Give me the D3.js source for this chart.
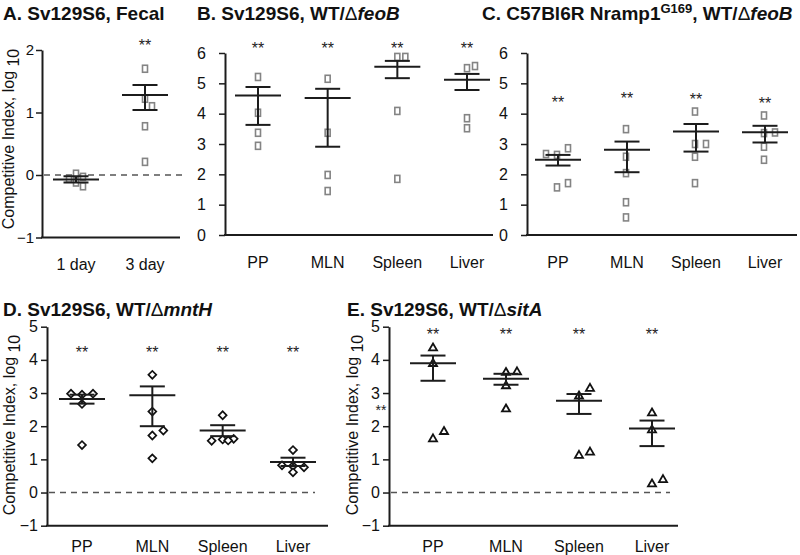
<!DOCTYPE html>
<html><head><meta charset="utf-8">
<script src="https://cdn.jsdelivr.net/npm/d3@7"></script>
<style>
html,body{margin:0;padding:0;background:#fff;}
svg{display:block;font-family:Arial,"Liberation Sans",Helvetica,sans-serif;}
</style></head>
<body>
<svg id="chart" width="800" height="555"></svg>
<script>
// ---------------- DATA ----------------
const organs = ["PP", "MLN", "Spleen", "Liver"];
const catsA = ["1 day", "3 day"];

// Panel A: Sv129S6, Fecal
const ptsA = [[0.02, -0.03, -0.06, -0.12, -0.18], [1.70, 1.22, 1.10, 0.78, 0.21]];
const meanA = [-0.07, 1.28];
const semHiA = [-0.02, 1.44];
const semLoA = [-0.12, 1.04];
const starsA = [null, 2.13];
const ticksA = [-1, 0, 1, 2];

// Panel B: Sv129S6, WT/ΔfeoB
const ptsB = [[5.21, 4.03, 3.37, 2.94], [5.15, 3.37, 1.98, 1.45], [5.87, 5.87, 4.09, 1.85], [5.50, 5.57, 3.85, 3.52]];
const meanB = [4.60, 4.52, 5.55, 5.12];
const semHiB = [4.88, 4.82, 5.74, 5.31];
const semLoB = [3.63, 2.91, 5.17, 4.78];
const starsB = [6.26, 6.26, 6.26, 6.26];
const ticks06 = [0, 1, 2, 3, 4, 5, 6];

// Panel C: C57Bl6R Nramp1 G169, WT/ΔfeoB
const ptsC = [[2.64, 2.86, 2.67, 1.57, 1.71], [3.49, 2.58, 2.04, 1.08, 0.58], [4.07, 3.00, 3.00, 2.58, 1.71], [3.94, 3.36, 3.38, 2.91, 2.48]];
const meanC = [2.48, 2.81, 3.41, 3.39];
const semHiC = [2.64, 3.08, 3.66, 3.60];
const semLoC = [2.29, 2.07, 2.75, 3.05];
const starsC = [4.48, 4.62, 4.58, 4.45];

// Panel D: Sv129S6, WT/ΔmntH
const ptsD = [[2.95, 2.98, 2.98, 2.67, 1.43], [3.55, 2.44, 1.72, 1.87, 1.03], [2.33, 1.60, 1.62, 1.56, 1.57], [0.80, 0.76, 0.82, 1.28, 0.61]];
const meanD = [2.82, 2.93, 1.87, 0.92];
const semHiD = [2.95, 3.20, 2.03, 1.05];
const semLoD = [2.68, 2.00, 1.70, 0.80];
const starsD = [4.33, 4.33, 4.33, 4.33];
const ticksM15 = [-1, 0, 1, 2, 3, 4, 5];

// Panel E: Sv129S6, WT/ΔsitA
const ptsE = [[4.37, 3.90, 1.63, 1.85], [3.63, 3.65, 3.23, 2.53], [2.92, 3.15, 1.13, 1.23], [2.41, 1.90, 0.27, 0.40]];
const meanE = [3.90, 3.43, 2.77, 1.93];
const semHiE = [4.13, 3.58, 2.97, 2.17];
const semLoE = [3.37, 3.25, 2.37, 1.40];
const starsE = [4.88, 4.88, 4.88, 4.88];
const extraStarE = 2.71;

// ---------------- DRAWING ----------------
const svg = d3.select("#chart");
const FONT = 'Arial,"Liberation Sans",Helvetica,sans-serif';
const INK = "#1c1c1c";

function drawPanel(cfg) {
  const g = svg.append("g");
  const y = d3.scaleLinear().domain(cfg.domain).range(cfg.yRange);
  const x = d3.scalePoint().domain(cfg.cats).range(cfg.xRange);

  // y axis
  const ax = g.append("g").attr("transform", `translate(${cfg.axisX},0)`)
    .call(d3.axisLeft(y).tickValues(cfg.ticks).tickSize(6).tickSizeOuter(0)
      .tickPadding(cfg.tickPad).tickFormat(d3.format("d")));
  ax.select(".domain").attr("stroke", INK).attr("stroke-width", 2);
  ax.selectAll(".tick line").attr("stroke", INK).attr("stroke-width", 1.5);
  ax.selectAll(".tick text").attr("font-size", cfg.tickFont).attr("font-family", FONT).attr("fill", "#111");

  // bottom axis line
  g.append("line").attr("x1", cfg.axisX - 1).attr("x2", cfg.axisEnd)
    .attr("y1", y(cfg.domain[0])).attr("y2", y(cfg.domain[0]))
    .attr("stroke", INK).attr("stroke-width", 2);

  // dashed zero line
  if (cfg.dashEnd) {
    g.append("line").attr("x1", cfg.axisX + 2).attr("x2", cfg.dashEnd)
      .attr("y1", y(0)).attr("y2", y(0))
      .attr("stroke", "#555").attr("stroke-width", 1.5).attr("stroke-dasharray", "6,5");
  }

  // category labels
  g.selectAll(".cat").data(cfg.cats).join("text")
    .attr("x", d => x(d)).attr("y", y(cfg.domain[0]) + cfg.catOffset)
    .attr("text-anchor", "middle").attr("font-size", 16).attr("fill", "#111").text(d => d);

  // points with simple dodge
  const slots = [0, 1, -1, 0.5, -0.5, 1.5, -1.5];
  cfg.cats.forEach((c, i) => {
    const placed = [];
    cfg.pts[i].forEach(v => {
      const py = y(v);
      let s = 0;
      for (const cand of slots) {
        if (!placed.some(p => p.slot === cand && Math.abs(p.py - py) < cfg.dodge)) { s = cand; break; }
      }
      placed.push({ slot: s, py: py, v: v });
    });
    placed.forEach(p => {
      const px = x(c) + cfg.markerX + p.slot * cfg.step;
      if (cfg.marker === "square") {
        g.append("rect").attr("x", px - 2.5).attr("y", p.py - 3.5).attr("width", 5).attr("height", 7)
          .attr("fill", "#fff").attr("stroke", "#848484").attr("stroke-width", 1.6);
      } else if (cfg.marker === "diamond") {
        g.append("path").attr("d", d3.symbol(d3.symbolSquare, 31)())
          .attr("transform", `translate(${px},${p.py}) rotate(45)`)
          .attr("fill", "#fff").attr("stroke", "#111").attr("stroke-width", 1.7);
      } else {
        g.append("path").attr("d", d3.symbol(d3.symbolTriangle, 28)())
          .attr("transform", `translate(${px},${p.py + 0.5})`)
          .attr("fill", "#fff").attr("stroke", "#111").attr("stroke-width", 1.8);
      }
    });

    // mean and SEM
    const cx = x(c);
    g.append("line").attr("x1", cx).attr("x2", cx).attr("y1", y(cfg.hi[i])).attr("y2", y(cfg.lo[i]))
      .attr("stroke", INK).attr("stroke-width", 2);
    [cfg.hi[i], cfg.lo[i]].forEach(v => {
      g.append("line").attr("x1", cx - 12.5).attr("x2", cx + 12.5).attr("y1", y(v)).attr("y2", y(v))
        .attr("stroke", INK).attr("stroke-width", 2);
    });
    g.append("line").attr("x1", cx - 23).attr("x2", cx + 23).attr("y1", y(cfg.mean[i])).attr("y2", y(cfg.mean[i]))
      .attr("stroke", INK).attr("stroke-width", 2);

    // stars
    if (cfg.stars[i] != null) {
      g.append("text").attr("x", cx).attr("y", y(cfg.stars[i]) + 9)
        .attr("text-anchor", "middle").attr("font-size", 16).attr("fill", "#222").text("**");
    }
  });

  // y label
  if (cfg.ylabelX != null) {
    const t = g.append("text")
      .attr("transform", `translate(${cfg.ylabelX},${cfg.ylabelY}) rotate(-90)`)
      .attr("text-anchor", "middle").attr("font-size", 16).attr("fill", "#111");
    t.append("tspan").text("Competitive Index, log ");
    t.append("tspan").attr("dy", 5).text("10");
  }
  return { x, y, g };
}

function title(x, yb, parts) {
  const t = svg.append("text").attr("x", x).attr("y", yb).attr("font-size", 19)
    .attr("font-weight", "bold").attr("fill", "#111");
  parts.forEach(p => {
    const s = t.append("tspan").text(p.t);
    if (p.i) s.attr("font-style", "italic");
    if (p.w) s.attr("font-weight", p.w);
    if (p.sup) s.attr("font-size", 13).attr("dy", -7);
    if (p.down) s.attr("dy", 7);
  });
}

// Panel A
drawPanel({ cats: catsA, domain: [-1, 2], yRange: [237.5, 50], xRange: [76, 145], axisX: 42, axisEnd: 180,
  dashEnd: 184, ticks: ticksA, tickFont: 15, tickPad: 2, catOffset: 32,
  pts: ptsA, mean: meanA, hi: semHiA, lo: semLoA, stars: starsA, marker: "square", markerX: 0, step: 7, dodge: 8,
  ylabelX: 14, ylabelY: 139 });

// Panel B
drawPanel({ cats: organs, domain: [0, 6], yRange: [235, 53], xRange: [258, 467], axisX: 225, axisEnd: 493,
  dashEnd: null, ticks: ticks06, tickFont: 16, tickPad: 13, catOffset: 33,
  pts: ptsB, mean: meanB, hi: semHiB, lo: semLoB, stars: starsB, marker: "square", markerX: 0, step: 8, dodge: 8,
  ylabelX: null });

// Panel C
drawPanel({ cats: organs, domain: [0, 6], yRange: [235, 53], xRange: [558, 765], axisX: 527, axisEnd: 797,
  dashEnd: null, ticks: ticks06, tickFont: 16, tickPad: 13, catOffset: 33,
  pts: ptsC, mean: meanC, hi: semHiC, lo: semLoC, stars: starsC, marker: "square", markerX: -1, step: 11, dodge: 8,
  ylabelX: null });

// Panel D
drawPanel({ cats: organs, domain: [-1, 5], yRange: [525.7, 326.7], xRange: [82, 293], axisX: 47, axisEnd: 328,
  dashEnd: 315, ticks: ticksM15, tickFont: 16, tickPad: 3, catOffset: 26,
  pts: ptsD, mean: meanD, hi: semHiD, lo: semLoD, stars: starsD, marker: "diamond", markerX: 0, step: 11, dodge: 6,
  ylabelX: 15, ylabelY: 425 });

// Panel E
const pE = drawPanel({ cats: organs, domain: [-1, 5], yRange: [525.7, 326.7], xRange: [433, 652], axisX: 389, axisEnd: 678,
  dashEnd: 670, ticks: ticksM15, tickFont: 16, tickPad: 3, catOffset: 26,
  pts: ptsE, mean: meanE, hi: semHiE, lo: semLoE, stars: starsE, marker: "triangle", markerX: 0, step: 11, dodge: 8,
  ylabelX: 358, ylabelY: 425 });
pE.g.append("text").attr("x", 381).attr("y", pE.y(extraStarE) + 12).attr("text-anchor", "middle")
  .attr("font-size", 14).attr("fill", "#222").text("**");

// Titles
title(3, 20, [{ t: "A. Sv129S6, Fecal" }]);
title(197, 20, [{ t: "B. Sv129S6, WT/" }, { t: "\u0394", w: "normal" }, { t: "feoB", i: true }]);
title(482, 20, [{ t: "C. C57Bl6R Nramp1" }, { t: "G169", sup: true }, { t: ", WT/", down: true }, { t: "\u0394", w: "normal" }, { t: "feoB", i: true }]);
title(3, 316, [{ t: "D. Sv129S6, WT/" }, { t: "\u0394", w: "normal" }, { t: "mntH", i: true }]);
title(347, 316, [{ t: "E. Sv129S6, WT/" }, { t: "\u0394", w: "normal" }, { t: "sitA", i: true }]);
</script>
</body></html>
